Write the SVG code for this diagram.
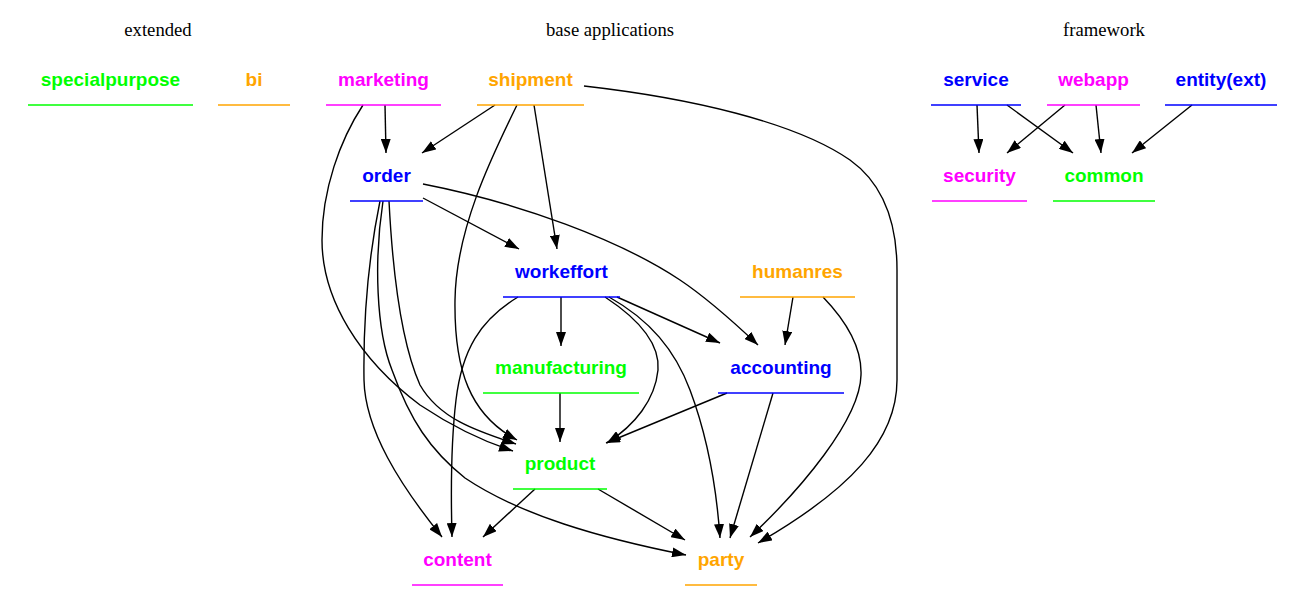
<svg xmlns="http://www.w3.org/2000/svg" width="1305" height="612" viewBox="0 0 1305 612">
<defs>
<style>
.t{font-family:"Liberation Sans",Arial,sans-serif;font-weight:bold;font-size:19px;text-anchor:middle}
.h{font-family:"Liberation Serif","Times New Roman",serif;font-size:18.67px;text-anchor:middle;fill:#000}
.g{fill:#00ff00}.o{fill:#ffa500}.m{fill:#ff00ff}.b{fill:#0000ff}
.lg{stroke:#00ff00}.lo{stroke:#ffa500}.lm{stroke:#ff00ff}.lb{stroke:#0000ff}
line.u{stroke-width:1.3}
#edges path{fill:none;stroke:#000;stroke-width:1.4;marker-end:url(#arr)}
</style>
<marker id="arr" viewBox="0 0 14 10" refX="14" refY="5" markerWidth="14" markerHeight="10" markerUnits="userSpaceOnUse" orient="auto">
<path d="M0,0 L14,5 L0,10 z" fill="#000"/>
</marker>
</defs>
<rect width="1305" height="612" fill="#fff"/>
<g id="clusters">
<text class="h" x="158" y="36">extended</text>
<text class="h" x="610" y="36">base applications</text>
<text class="h" x="1104" y="36">framework</text>
</g>
<g id="edges">
<path d="M385,105 L386,153"/>
<path d="M495,105 L422,153"/>
<path d="M534,105 L557,249"/>
<path d="M423,198 L519,249"/>
<path d="M363,105 C340,140 322,190 322,240 C322,300 360,360 420,405 C450,425 485,442 513,451"/>
<path d="M517,105 C490,160 456,230 455,300 C454,370 470,415 517,440"/>
<path d="M389,201 C392,260 400,340 420,385 C440,420 480,432 516,444"/>
<path d="M380,201 C370,250 363,310 364,380 C365,430 400,485 442,537"/>
<path d="M383,201 C374,260 376,330 392,370 C410,420 430,450 465,478 C520,515 600,538 686,555"/>
<path d="M423,184 C520,203 620,240 680,280 C710,300 740,328 758,345"/>
<path d="M561,297 L561,346"/>
<path d="M560,393 L560,442"/>
<path d="M617,297 L720,343"/>
<path d="M605,297 C640,320 660,345 658,370 C655,400 635,425 607,443"/>
<path d="M609,297 C650,320 675,350 690,390 C705,430 716,480 720,538"/>
<path d="M518,297 C480,320 462,350 456,400 C450,450 451,500 452,537"/>
<path d="M727,393 L606,443"/>
<path d="M773,393 L730,538"/>
<path d="M793,297 L785,345"/>
<path d="M823,297 C850,325 862,350 861,375 C860,420 800,490 750,537"/>
<path d="M584,86 C690,98 795,122 850,160 C885,185 897,225 897,270 L897,380 C897,440 850,490 758,543"/>
<path d="M535,489 L483,537"/>
<path d="M598,489 L685,540"/>
<path d="M977,105 L979,153"/>
<path d="M1007,105 L1073,153"/>
<path d="M1065,105 L1007,153"/>
<path d="M1096,105 L1101,153"/>
<path d="M1192,105 L1132,153"/>
</g>
<g id="specialpurpose"><text class="t g" x="110.5" y="86">specialpurpose</text><line class="u lg" x1="28" y1="105" x2="193" y2="105"/></g>
<g id="bi"><text class="t o" x="254" y="86">bi</text><line class="u lo" x1="218" y1="105" x2="290" y2="105"/></g>
<g id="marketing"><text class="t m" x="383.5" y="86">marketing</text><line class="u lm" x1="326" y1="105" x2="441" y2="105"/></g>
<g id="shipment"><text class="t o" x="530.5" y="86">shipment</text><line class="u lo" x1="477" y1="105" x2="584" y2="105"/></g>
<g id="order"><text class="t b" x="386.5" y="182">order</text><line class="u lb" x1="350" y1="201" x2="423" y2="201"/></g>
<g id="workeffort"><text class="t b" x="561.5" y="278">workeffort</text><line class="u lb" x1="503" y1="297" x2="620" y2="297"/></g>
<g id="humanres"><text class="t o" x="797.5" y="278">humanres</text><line class="u lo" x1="740" y1="297" x2="855" y2="297"/></g>
<g id="manufacturing"><text class="t g" x="561" y="374">manufacturing</text><line class="u lg" x1="483" y1="393" x2="639" y2="393"/></g>
<g id="accounting"><text class="t b" x="781" y="374">accounting</text><line class="u lb" x1="718" y1="393" x2="844" y2="393"/></g>
<g id="product"><text class="t g" x="560" y="470">product</text><line class="u lg" x1="513" y1="489" x2="607" y2="489"/></g>
<g id="content"><text class="t m" x="457.5" y="566">content</text><line class="u lm" x1="412" y1="585" x2="503" y2="585"/></g>
<g id="party"><text class="t o" x="721" y="566">party</text><line class="u lo" x1="685" y1="585" x2="757" y2="585"/></g>
<g id="service"><text class="t b" x="976" y="86">service</text><line class="u lb" x1="931" y1="105" x2="1021" y2="105"/></g>
<g id="webapp"><text class="t m" x="1093.5" y="86">webapp</text><line class="u lm" x1="1047" y1="105" x2="1140" y2="105"/></g>
<g id="entity"><text class="t b" x="1221" y="86">entity(ext)</text><line class="u lb" x1="1165" y1="105" x2="1277" y2="105"/></g>
<g id="security"><text class="t m" x="979.5" y="182">security</text><line class="u lm" x1="932" y1="201" x2="1027" y2="201"/></g>
<g id="common"><text class="t g" x="1104" y="182">common</text><line class="u lg" x1="1053" y1="201" x2="1155" y2="201"/></g>
</svg>
